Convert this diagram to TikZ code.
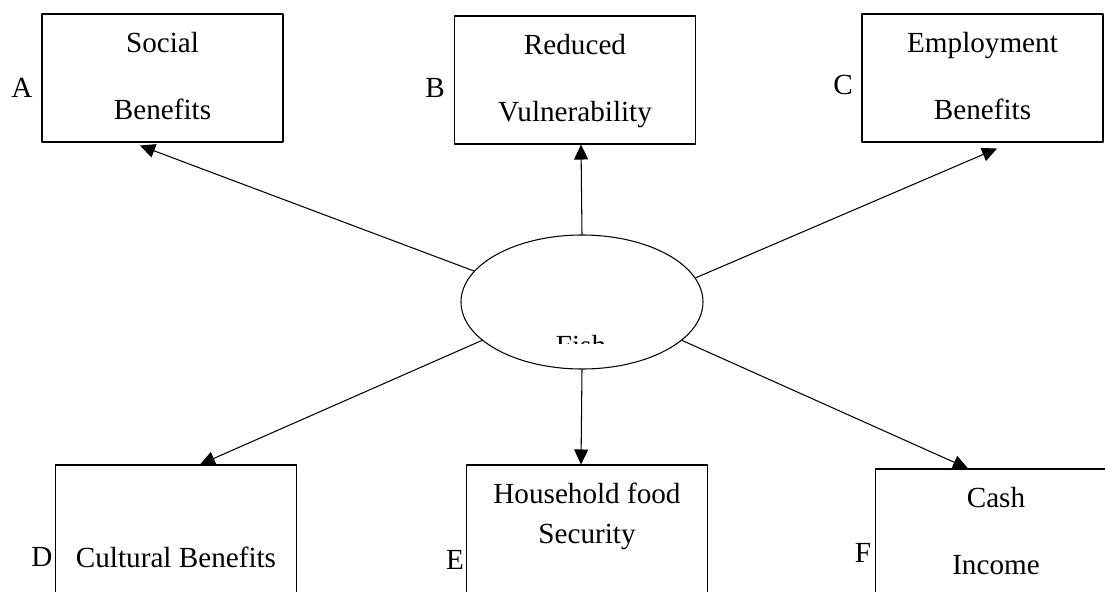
\documentclass[tikz,border=0pt]{standalone}
\usepackage{fontspec}
\setmainfont{Liberation Serif}
\usetikzlibrary{arrows.meta,shapes.geometric,positioning}
\begin{document}
\begin{tikzpicture}[line join=round, line width=0.6pt, >={Triangle[length=0.3cm,width=0.28cm]},
every node/.style={font=\fontsize{16.6pt}{20pt}\selectfont},
box/.style={draw, rectangle, minimum width=4.82cm, minimum height=2.56cm, inner sep=0pt},
txt/.style={align=center, inner sep=0pt}]
\clip (0,0) rectangle (22.1,11.82);
\node[box] (A) at (3.25,10.26) {};
\node[box] (B) at (11.5,10.22) {};
\node[box] (C) at (19.65,10.26) {};
\node[box] (D) at (3.52,1.24) {};
\node[box] (E) at (11.74,1.24) {};
\node[box] (F) at (19.92,1.16) {};
\node[txt, below=0.36cm of A.north] (Atext) {Social\\[18pt]Benefits};
\node[txt, below=0.36cm of B.north] (Btext) {Reduced\\[18pt]Vulnerability};
\node[txt, below=0.36cm of C.north] (Ctext) {Employment\\[18pt]Benefits};
\node[txt, below=1.64cm of D.north] (Dtext) {Cultural Benefits};
\node[txt, below=0.36cm of E.north] (Etext) {Household food\\[3pt]Security};
\node[txt, below=0.36cm of F.north] (Ftext) {Cash\\[18pt]Income};
\node (la) at (0.44,10.06) {A};
\node (lb) at (8.7,10.06) {B};
\node (lc) at (16.86,10.12) {C};
\node (ld) at (0.84,0.68) {D};
\node (le) at (9.1,0.62) {E};
\node (lf) at (17.26,0.76) {F};
\node[draw, ellipse, minimum width=4.84cm, minimum height=2.68cm, inner sep=0pt] (fish) at (11.64,5.78) {};
\begin{scope}
\clip (10,4.96) rectangle (13.3,6);
\node[inner sep=0pt, anchor=base] (fishtext) at (11.62,4.72) {Fish};
\end{scope}
\draw[->] (fish.164) -- ([shift={(-0.45,-0.06)}]A.south);
\draw[->] (fish.north) -- ([xshift=0.12cm]B.south);
\draw[->] (fish.12) -- ([shift={(0.29,-0.12)}]C.south);
\draw[->] (fish.201) -- ([xshift=0.48cm]D.north);
\draw[->] (fish.south) -- ([xshift=-0.12cm]E.north);
\draw[->] (fish.339) -- ([xshift=-0.56cm]F.north);
\end{tikzpicture}
\end{document}
